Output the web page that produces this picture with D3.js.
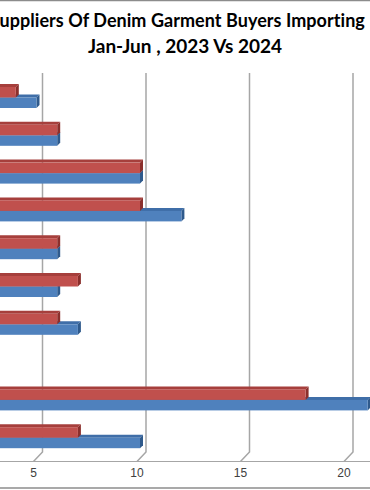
<!DOCTYPE html>
<html>
<head>
<meta charset="utf-8">
<script src="https://cdn.jsdelivr.net/npm/d3@7"></script>
<style>
  body { margin: 0; background: #fff; }
  svg { display: block; }
</style>
</head>
<body>
<div id="chart"></div>
<script>
// rows top to bottom (labels fall outside the visible crop)
const categories = ["Row 1", "Row 2", "Row 3", "Row 4", "Row 5", "Row 6", "Row 7", "Row 8", "Row 9", "Row 10"];
const values2023 = [5, 6, 10, 12, 6, 6, 7, 0, 21, 10];
const values2024 = [4, 6, 10, 10, 6, 7, 6, 0, 18, 7];
const tickValues = [5, 10, 15, 20];
const titleLine1 = "Suppliers Of Denim Garment Buyers Importing From";
const titleLine2 = "Jan-Jun , 2023 Vs 2024";

const width = 370, height = 490;
const svg = d3.select("#chart").append("svg")
  .attr("width", width)
  .attr("height", height);

// frame lines
svg.append("line").attr("x1", 0).attr("x2", width).attr("y1", 0.5).attr("y2", 0.5)
  .attr("stroke", "#8c8c8c").attr("stroke-width", 1.5);
svg.append("line").attr("x1", 0).attr("x2", width).attr("y1", 488).attr("y2", 488)
  .attr("stroke", "#8c8c8c").attr("stroke-width", 1.5);

// title
const t1 = svg.append("text")
  .attr("y", 27)
  .attr("font-family", "Lato, sans-serif")
  .attr("font-weight", "bold")
  .attr("font-size", 18)
  .attr("letter-spacing", 0.05)
  .attr("fill", "#000")
  .text(titleLine1);
const sW = t1.node().getSubStringLength(0, 1);
t1.attr("x", -sW - 0.5);

svg.append("text")
  .attr("x", 185)
  .attr("y", 53)
  .attr("text-anchor", "middle")
  .attr("font-family", "Lato, sans-serif")
  .attr("font-weight", "bold")
  .attr("font-size", 19)
  .attr("fill", "#000")
  .text(titleLine2);

// scales: x for the bar front faces, y bands per row
const x = d3.scaleLinear().domain([0, 20]).range([-67, 347]);
const y = d3.scaleBand().domain(categories).range([78.6, 456.6]);

const backDx = 6, frontDx = -3;
const gridTop = 73, gridBottom = 452, floorY = 461.5;

// gridlines on back wall + floor diagonals
const grid = svg.append("g");
tickValues.forEach(v => {
  const bx = x(v) + backDx, fx = x(v) + frontDx;
  grid.append("path")
    .attr("d", `M${bx},${gridTop}V${gridBottom}L${fx},${floorY}`)
    .attr("fill", "none")
    .attr("stroke", "#a6a6a6")
    .attr("stroke-width", 1.5);
});
grid.append("line")
  .attr("x1", 0).attr("x2", width)
  .attr("y1", floorY).attr("y2", floorY)
  .attr("stroke", "#a6a6a6").attr("stroke-width", 1.2);

// axis labels
svg.append("g").selectAll("text")
  .data(tickValues)
  .enter().append("text")
  .attr("x", d => x(d) + frontDx)
  .attr("y", 477)
  .attr("text-anchor", "middle")
  .attr("font-family", "Liberation Sans, Arial, sans-serif")
  .attr("font-size", 12)
  .attr("fill", "#404040")
  .text(d => d);

// 3D bars
const depth = 3, barH = 10.5;
const series = [
  { values: values2023, front: "#4f81bd", top: "#3f6ea8", side: "#2f5a8c", offset: 0 },
  { values: values2024, front: "#c0504d", top: "#a63f3c", side: "#8b2f2c", offset: -barH }
];

function drawBar(g, v, cy, s) {
  if (v <= 0) return;
  const x0 = x(0), x1 = x(v);
  const yt = cy + s.offset, yb = yt + barH;
  g.append("path")
    .attr("d", `M${x0},${yt}L${x0 + depth},${yt - depth}L${x1 + depth},${yt - depth}L${x1},${yt}Z`)
    .attr("fill", s.top);
  g.append("path")
    .attr("d", `M${x1},${yt}L${x1 + depth},${yt - depth}L${x1 + depth},${yb - depth}L${x1},${yb}Z`)
    .attr("fill", s.side);
  g.append("rect")
    .attr("x", x0).attr("y", yt)
    .attr("width", x1 - x0).attr("height", barH)
    .attr("fill", s.front);
}

const bars = svg.append("g");
categories.forEach((c, i) => {
  const cy = y(c) + y.bandwidth() / 2;
  series.forEach(s => drawBar(bars, s.values[i], cy, s));
});
</script>
</body>
</html>
